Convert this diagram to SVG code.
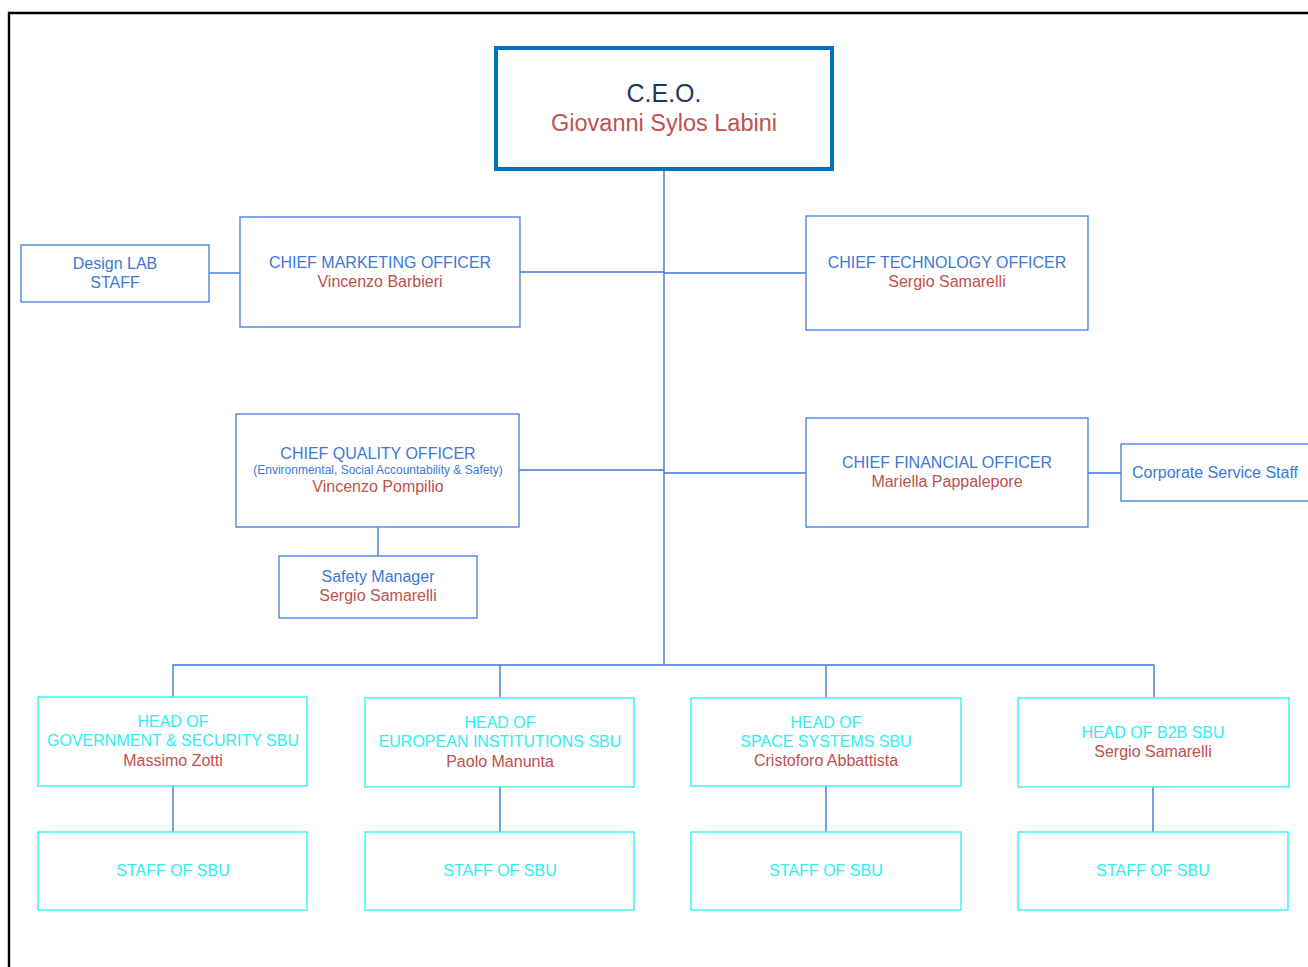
<svg xmlns="http://www.w3.org/2000/svg" width="1308" height="967" viewBox="0 0 1308 967">
<style>
text{font-family:"Liberation Sans",Arial,sans-serif;text-anchor:middle}
.box{fill:#fff;stroke:#4A86E0;stroke-width:1.4}
.sbu{fill:#fff;stroke:#33F2F5;stroke-width:1.4}
.t{fill:#3C78D8;font-size:16px}
.s{fill:#3C78D8;font-size:12px}
.n{fill:#C0504D;font-size:16px}
.c{fill:#2EEEF2;font-size:16px}
.cn{stroke:#3C78D8;stroke-width:1.4;fill:none}
</style>
<rect x="-10" y="0" width="1330" height="980" fill="#fff"/>
<path d="M9 967 V13 H1308" fill="none" stroke="#000" stroke-width="2.4"/>
<g id="connectors" class="cn">
<path d="M664 169 V665"/>
<path d="M209 273 H240"/>
<path d="M520 272 H664"/>
<path d="M664 273 H806"/>
<path d="M519 470 H664"/>
<path d="M378 527 V556"/>
<path d="M664 473 H806"/>
<path d="M1088 473 H1121"/>
<path d="M173 697 V665 H1154 V697"/>
<path d="M500 665 V698"/>
<path d="M826 665 V698"/>
<path d="M173 786 V832"/>
<path d="M500 787 V832"/>
<path d="M826 786 V832"/>
<path d="M1153 787 V832"/>
</g>
<g id="ceo">
<rect x="496" y="48" width="336" height="121" fill="#fff" stroke="#0070C0" stroke-width="4"/>
<text x="664" y="102" fill="#1F3864" font-size="25">C.E.O.</text>
<text x="664" y="131" fill="#C0504D" font-size="23.5">Giovanni Sylos Labini</text>
</g>
<g id="design-lab">
<rect class="box" x="21" y="245" width="188" height="57"/>
<text class="t" x="115" y="269">Design LAB</text>
<text class="t" x="115" y="288">STAFF</text>
</g>
<g id="cmo">
<rect class="box" x="240" y="217" width="280" height="110"/>
<text class="t" x="380" y="268">CHIEF MARKETING OFFICER</text>
<text class="n" x="380" y="287">Vincenzo Barbieri</text>
</g>
<g id="cto">
<rect class="box" x="806" y="216" width="282" height="114"/>
<text class="t" x="947" y="268">CHIEF TECHNOLOGY OFFICER</text>
<text class="n" x="947" y="287">Sergio Samarelli</text>
</g>
<g id="cqo">
<rect class="box" x="236" y="414" width="283" height="113"/>
<text class="t" x="378" y="459">CHIEF QUALITY OFFICER</text>
<text class="s" x="378" y="474">(Environmental, Social Accountability &amp; Safety)</text>
<text class="n" x="378" y="492">Vincenzo Pompilio</text>
</g>
<g id="safety">
<rect class="box" x="279" y="556" width="198" height="62"/>
<text class="t" x="378" y="582">Safety Manager</text>
<text class="n" x="378" y="601">Sergio Samarelli</text>
</g>
<g id="cfo">
<rect class="box" x="806" y="418" width="282" height="109"/>
<text class="t" x="947" y="468">CHIEF FINANCIAL OFFICER</text>
<text class="n" x="947" y="487">Mariella Pappalepore</text>
</g>
<g id="corporate">
<rect class="box" x="1121" y="444" width="200" height="57"/>
<text class="t" x="1132" y="478" style="text-anchor:start">Corporate Service Staff</text>
</g>
<g id="sbu1">
<rect class="sbu" x="38" y="697" width="269" height="89"/>
<text class="c" x="173" y="727">HEAD OF</text>
<text class="c" x="173" y="746">GOVERNMENT &amp; SECURITY SBU</text>
<text class="n" x="173" y="766">Massimo Zotti</text>
</g>
<g id="sbu2">
<rect class="sbu" x="365" y="698" width="269" height="89"/>
<text class="c" x="500" y="728">HEAD OF</text>
<text class="c" x="500" y="747">EUROPEAN INSTITUTIONS SBU</text>
<text class="n" x="500" y="767">Paolo Manunta</text>
</g>
<g id="sbu3">
<rect class="sbu" x="691" y="698" width="270" height="88"/>
<text class="c" x="826" y="728">HEAD OF</text>
<text class="c" x="826" y="747">SPACE SYSTEMS SBU</text>
<text class="n" x="826" y="766">Cristoforo Abbattista</text>
</g>
<g id="sbu4">
<rect class="sbu" x="1018" y="698" width="271" height="89"/>
<text class="c" x="1153" y="738">HEAD OF B2B SBU</text>
<text class="n" x="1153" y="757">Sergio Samarelli</text>
</g>
<g id="staff1"><rect class="sbu" x="38" y="832" width="269" height="78"/><text class="c" x="173" y="876">STAFF OF SBU</text></g>
<g id="staff2"><rect class="sbu" x="365" y="832" width="269" height="78"/><text class="c" x="500" y="876">STAFF OF SBU</text></g>
<g id="staff3"><rect class="sbu" x="691" y="832" width="270" height="78"/><text class="c" x="826" y="876">STAFF OF SBU</text></g>
<g id="staff4"><rect class="sbu" x="1018" y="832" width="270" height="78"/><text class="c" x="1153" y="876">STAFF OF SBU</text></g>
</svg>
